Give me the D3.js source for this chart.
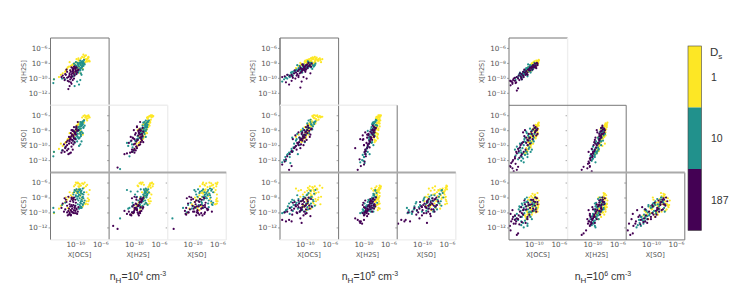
<!DOCTYPE html>
<html>
<head>
<meta charset="utf-8">
<script src="https://d3js.org/d3.v7.min.js"></script>
<style>
  html, body { margin: 0; padding: 0; background: #fff; }
  svg { display: block; }
  .axis text { font-family: "DejaVu Sans", sans-serif; font-size: 7.2px; fill: #555; }
  .axis line { stroke: #666; stroke-width: 0.6; }
  .axis .domain { stroke: none; }
  .axis-label { font-family: "DejaVu Sans", sans-serif; font-size: 6.6px; fill: #555; text-anchor: middle; }
  .title { font-family: "Liberation Sans", Arial, sans-serif; font-size: 10.5px; fill: #333; text-anchor: middle; }
  .cbar-label { font-family: "Liberation Sans", Arial, sans-serif; font-size: 10.5px; fill: #333; }
</style>
</head>
<body>
<svg id="chart" width="744" height="297"></svg>
<script>
// every row is log10 abundance: [OCS, H2S, SO, CS]
const n4_ds1 = [
  [-8.7,-6.9,-6.1,-6.2],[-8.5,-7.1,-6.0,-6.0],[-8.9,-7.2,-6.3,-6.1],[-8.3,-7.0,-6.2,-6.5],[-8.1,-7.5,-6.7,-6.3],[-7.7,-7.8,-6.3,-7.0],
  [-9.1,-7.4,-6.9,-6.4],[-9.4,-7.7,-7.6,-6.6],[-8.0,-7.4,-6.1,-8.1],[-8.2,-7.6,-6.2,-8.5],[-8.4,-7.9,-6.3,-8.9],[-8.6,-8.1,-7.0,-8.7],
  [-9.8,-7.9,-7.9,-6.9],[-10.1,-8.1,-8.2,-7.1],[-10.4,-8.2,-8.6,-7.4],[-9.6,-8.2,-8.0,-7.0],[-10.7,-8.4,-8.9,-7.7],[-11.0,-8.5,-9.1,-8.0],
  [-11.3,-8.8,-9.4,-8.3],[-11.6,-9.2,-9.7,-8.6],[-12.0,-9.4,-10.1,-8.9],[-12.3,-9.6,-9.8,-9.1],[-13.4,-10.2,-10.9,-10.1],[-12.6,-9.9,-10.5,-9.5],
  [-9.3,-8.7,-7.9,-7.3],[-9.0,-8.3,-8.3,-7.5],[-10.3,-8.6,-8.7,-8.2],[-9.5,-7.6,-7.2,-6.5],[-8.8,-8.8,-8.6,-9.2],[-10.9,-7.9,-8.4,-7.3],
  [-7.9,-7.2,-6.1,-7.6],[-9.2,-8.0,-7.5,-7.8],
  [-9.9,-8.9,-8.3,-6.0],[-9.7,-9.1,-7.8,-6.1],[-10.0,-8.4,-8.1,-6.3],[-9.6,-8.6,-7.3,-6.0],[-9.3,-8.8,-8.4,-6.2],[-10.2,-9.3,-8.8,-6.5],
  [-9.5,-7.4,-7.0,-6.1],[-9.2,-9.4,-8.0,-6.4],[-7.9,-7.3,-6.0,-8.5],[-8.3,-7.5,-6.1,-8.8],[-7.8,-7.7,-6.2,-8.3],[-8.0,-7.8,-6.4,-8.9],
  [-8.9,-8.4,-7.2,-8.2],[-11.2,-8.6,-9.2,-9.4],[-10.8,-9.0,-8.9,-9.7],[-10.5,-8.3,-8.5,-7.9],[-11.5,-9.0,-9.6,-8.0],[-9.8,-7.5,-7.4,-7.4],
  [-8.6,-7.3,-6.6,-6.7],[-8.2,-7.8,-6.5,-7.3]
];
const n4_ds10 = [
  [-9.2,-7.7,-6.9,-6.9],[-9.0,-7.9,-7.0,-7.1],[-8.8,-8.1,-7.2,-6.8],[-9.3,-8.0,-7.5,-7.0],[-9.5,-8.2,-7.6,-7.2],[-9.1,-8.3,-7.8,-7.4],
  [-8.9,-7.8,-7.3,-7.5],[-9.4,-8.5,-8.0,-7.6],[-8.7,-8.4,-7.7,-8.1],[-9.0,-8.6,-8.2,-8.3],[-9.2,-8.8,-8.5,-8.7],[-8.5,-8.2,-7.4,-8.4],
  [-9.6,-8.0,-7.9,-7.9],[-9.8,-8.4,-8.3,-6.9],[-10.0,-8.3,-8.5,-7.1],[-9.3,-9.0,-9.0,-9.0],[-9.0,-9.6,-9.5,-9.4],[-9.2,-10.3,-9.9,-9.2],
  [-9.5,-9.3,-9.1,-8.4],[-8.8,-8.9,-8.4,-7.9],[-8.6,-7.6,-6.7,-7.3],[-9.7,-8.7,-8.8,-8.2],[-10.2,-8.1,-8.1,-7.3],[-9.9,-7.9,-7.6,-7.7],
  [-13.5,-10.7,-11.5,-9.4],[-13.4,-10.2,-10.9,-10.0],[-12.1,-10.1,-10.7,-9.0],[-11.6,-10.2,-10.3,-8.7],[-15.0,-12.2,-13.2,-10.8],[-9.4,-10.9,-10.1,-9.5],
  [-8.9,-8.0,-7.1,-8.0],[-9.1,-8.7,-8.6,-8.5],
  [-9.4,-8.9,-9.1,-6.9],[-9.1,-9.4,-8.8,-7.2],[-9.7,-10.5,-9.5,-7.2],[-10.1,-11.1,-9.7,-7.0],[-8.9,-8.5,-7.0,-8.5],[-8.6,-8.1,-6.7,-8.7],
  [-8.8,-8.3,-6.9,-8.9],[-9.0,-8.6,-7.4,-9.3],[-8.7,-7.9,-7.6,-7.6],[-9.3,-8.9,-7.8,-8.1],[-9.6,-9.1,-8.5,-8.9],[-9.9,-9.5,-9.2,-7.9],
  [-9.5,-8.4,-8.1,-7.8],[-9.2,-8.2,-7.2,-7.7],[-10.3,-9.8,-9.4,-7.6],[-8.8,-7.8,-6.8,-9.0],[-9.1,-8.0,-7.5,-8.8],[-9.6,-8.1,-8.9,-7.4],
  [-9.2,-9.0,-8.3,-9.4],[-10.0,-8.6,-9.0,-9.1]
];
const n4_ds187 = [
  [-10.2,-8.5,-8.2,-8.0],[-10.0,-8.7,-8.5,-8.3],[-10.4,-8.9,-8.1,-8.1],[-10.6,-8.6,-8.8,-8.2],[-10.8,-9.0,-9.0,-8.5],[-9.9,-9.1,-7.9,-8.7],
  [-10.3,-9.3,-8.7,-9.0],[-10.5,-9.4,-9.3,-9.2],[-10.9,-9.6,-9.5,-8.9],[-10.1,-9.7,-8.4,-9.4],[-9.8,-9.5,-7.5,-9.6],[-10.7,-9.9,-9.2,-9.7],
  [-11.0,-9.8,-9.8,-9.5],[-11.3,-9.2,-10.0,-9.1],[-11.6,-9.5,-10.4,-9.6],[-12.0,-9.7,-10.7,-8.8],[-11.8,-10.0,-9.9,-9.9],[-10.4,-10.3,-10.6,-10.0],
  [-10.7,-10.6,-11.0,-10.3],[-10.9,-11.1,-11.1,-10.2],[-11.1,-11.5,-11.2,-9.8],[-10.2,-10.1,-9.1,-10.1],[-9.6,-9.0,-6.9,-9.9],[-9.5,-8.9,-8.0,-9.3],
  [-11.4,-8.9,-9.6,-8.6],[-11.2,-10.4,-9.4,-10.4],[-10.6,-10.8,-9.7,-9.9],[-12.2,-9.9,-11.0,-9.4],[-15.0,-13.3,-15.0,-11.8],[-15.0,-12.6,-13.0,-12.2],
  [-10.0,-9.2,-8.3,-9.1],[-10.3,-8.8,-8.9,-8.6],
  [-10.3,-9.0,-9.9,-8.2],[-10.6,-9.6,-10.2,-8.0],[-11.1,-9.9,-10.5,-7.9],[-10.0,-8.8,-9.2,-9.8],[-9.9,-9.0,-8.6,-10.1],[-9.7,-9.3,-8.1,-10.2],
  [-10.4,-9.1,-8.0,-10.0],[-10.2,-9.5,-7.6,-9.7],[-10.5,-9.8,-8.6,-9.5],[-10.8,-10.2,-9.0,-9.2],[-11.0,-10.5,-8.9,-10.3],[-10.1,-8.5,-9.6,-9.3],
  [-11.5,-9.6,-10.2,-8.3],[-11.7,-10.3,-10.9,-8.1],[-10.7,-9.2,-8.4,-10.4],[-10.9,-9.4,-9.3,-10.0],[-9.8,-8.6,-7.7,-9.5],[-11.3,-10.0,-10.7,-10.0],
  [-10.4,-8.7,-9.4,-8.4],[-10.6,-10.0,-8.0,-9.0]
];
const n5_ds1 = [
  [-8.8,-7.3,-6.1,-6.6],[-8.4,-7.2,-6.0,-6.5],[-8.0,-7.6,-6.0,-6.9],[-7.6,-7.4,-6.1,-6.4],[-7.2,-7.5,-6.2,-6.7],[-8.6,-7.5,-6.3,-7.0],
  [-9.0,-7.7,-6.6,-7.2],[-8.2,-7.4,-6.5,-7.4],[-8.9,-7.8,-7.0,-7.7],[-9.2,-7.9,-7.3,-8.0],[-9.4,-8.0,-7.6,-8.3],[-8.7,-8.1,-7.4,-8.6],
  [-9.6,-7.6,-8.0,-8.8],[-9.9,-7.9,-8.4,-9.0],[-10.1,-8.1,-8.7,-9.3],[-9.5,-8.2,-8.2,-7.6],[-9.8,-7.8,-8.9,-8.2],[-10.3,-8.2,-9.3,-9.1],
  [-10.5,-8.2,-9.6,-8.5],[-11.4,-8.7,-8.9,-6.8],[-11.0,-8.4,-8.6,-7.1],[-10.6,-8.3,-8.0,-7.0],[-8.5,-8.0,-6.4,-7.2],[-7.8,-7.7,-6.3,-8.0],
  [-7.4,-7.9,-6.2,-7.9],[-9.3,-7.5,-7.1,-6.9],[-10.0,-7.8,-7.6,-7.3],[-9.7,-8.0,-7.7,-8.5],[-8.3,-7.6,-6.9,-8.2],[-9.1,-8.3,-7.9,-7.5],
  [-8.1,-7.3,-6.7,-6.8],[-9.0,-7.4,-7.5,-7.8],
  [-8.6,-7.4,-6.0,-8.8],[-8.2,-7.5,-6.1,-8.5],[-7.9,-7.7,-6.2,-8.3],[-7.5,-7.6,-6.3,-8.9],[-9.3,-7.6,-7.8,-9.4],[-9.7,-7.7,-8.5,-9.7],
  [-9.0,-7.4,-7.1,-9.5],[-9.5,-8.1,-8.3,-6.7],[-9.2,-7.9,-7.9,-6.5],[-9.0,-7.8,-7.4,-7.0],[-10.3,-8.3,-9.0,-7.6],[-10.7,-8.0,-9.4,-7.9],
  [-8.4,-7.8,-6.4,-7.6],[-8.8,-7.5,-6.8,-8.0],[-9.9,-7.7,-9.1,-8.0],[-8.7,-7.3,-6.2,-6.7],[-9.6,-7.9,-7.3,-7.1],[-7.8,-7.5,-6.6,-7.3],
  [-9.4,-7.7,-8.6,-8.9],[-8.3,-7.9,-7.1,-9.0]
];
const n5_ds10 = [
  [-9.4,-7.9,-6.7,-7.4],[-9.1,-8.1,-6.9,-7.1],[-9.6,-8.3,-7.1,-7.6],[-8.9,-8.0,-7.3,-7.9],[-8.7,-8.3,-7.5,-8.3],[-10.3,-8.5,-7.8,-8.2],
  [-10.6,-8.7,-8.2,-8.5],[-9.8,-8.6,-8.6,-8.8],[-10.1,-8.9,-8.9,-9.2],[-9.3,-8.5,-8.4,-8.1],[-8.5,-8.4,-7.2,-7.5],[-10.9,-8.8,-9.0,-8.6],
  [-11.4,-9.0,-9.4,-8.9],[-11.7,-9.1,-9.8,-8.4],[-12.1,-9.5,-10.5,-9.3],[-11.9,-9.7,-10.8,-9.8],[-12.5,-9.8,-11.0,-8.8],[-12.8,-10.1,-11.3,-9.6],
  [-13.1,-9.9,-11.6,-9.9],[-13.3,-10.2,-12.0,-10.0],[-13.6,-10.5,-12.3,-10.1],[-12.3,-9.8,-12.4,-9.4],[-11.1,-9.0,-11.2,-9.5],[-10.4,-9.3,-8.1,-9.7],
  [-10.0,-8.6,-9.6,-8.0],[-9.2,-8.2,-7.7,-9.0],[-8.8,-8.8,-7.9,-9.3],[-8.3,-8.1,-6.8,-7.0],[-11.2,-8.3,-8.5,-7.7],[-12.0,-9.2,-9.0,-8.3],
  [-9.5,-7.8,-7.4,-8.7],[-10.8,-8.4,-10.0,-9.9],
  [-10.5,-8.9,-9.1,-9.5],[-11.0,-8.7,-9.7,-8.2],[-11.5,-9.2,-10.2,-9.1],[-12.2,-9.3,-10.9,-8.6],[-9.7,-8.4,-8.0,-7.7],[-9.0,-8.6,-7.2,-8.8],
  [-8.6,-8.5,-7.0,-8.5],[-8.4,-8.3,-6.9,-9.1],[-9.5,-8.7,-7.6,-9.6],[-9.9,-8.8,-8.2,-9.9],[-10.2,-8.2,-8.8,-7.9],[-10.7,-9.1,-9.3,-9.8],
  [-11.8,-9.4,-10.3,-9.0],[-12.7,-9.6,-11.2,-9.2],[-13.0,-10.0,-12.1,-9.7],[-10.4,-9.0,-8.6,-8.4],[-9.1,-8.0,-6.6,-8.0],[-11.3,-8.9,-9.2,-8.7],
  [-12.4,-9.9,-11.6,-10.2],[-9.6,-8.3,-7.9,-9.3]
];
const n5_ds187 = [
  [-9.4,-8.0,-7.7,-8.0],[-9.6,-8.2,-8.0,-8.3],[-9.9,-8.4,-8.3,-8.1],[-10.1,-8.5,-8.6,-8.6],[-10.3,-8.3,-8.8,-8.9],[-10.0,-8.7,-9.0,-9.1],
  [-10.6,-8.8,-9.2,-8.5],[-10.4,-9.0,-9.4,-9.3],[-10.9,-8.9,-9.6,-8.8],[-11.1,-9.1,-9.8,-9.0],[-9.2,-8.3,-8.9,-9.5],[-8.9,-8.1,-7.8,-9.2],
  [-11.4,-9.3,-10.1,-9.2],[-11.7,-9.4,-10.4,-9.5],[-12.1,-9.6,-10.8,-9.7],[-12.4,-9.7,-11.2,-9.4],[-12.8,-9.6,-11.5,-9.9],[-13.2,-9.8,-12.2,-10.0],
  [-13.6,-9.9,-12.6,-11.0],[-13.0,-10.6,-11.9,-11.2],[-12.5,-10.9,-13.3,-11.0],[-12.1,-10.4,-12.8,-11.2],[-10.7,-11.3,-10.4,-10.8],[-10.5,-10.5,-9.2,-11.4],
  [-10.2,-9.9,-10.0,-10.4],[-9.7,-10.1,-9.3,-10.1],[-11.0,-9.7,-8.3,-8.4],[-11.5,-10.1,-8.7,-9.0],[-11.9,-10.0,-9.2,-8.7],[-9.0,-8.5,-7.9,-8.2],
  [-9.8,-8.9,-8.2,-9.6],[-15.0,-10.2,-13.8,-11.5],
  [-9.6,-8.7,-8.4,-8.8],[-9.3,-8.4,-8.1,-9.1],[-10.2,-8.9,-8.9,-8.2],[-10.5,-9.2,-8.5,-9.6],[-10.8,-9.4,-9.0,-9.9],[-10.1,-8.6,-8.0,-9.9],
  [-9.9,-9.2,-8.7,-10.2],[-11.2,-9.5,-9.7,-10.1],[-10.6,-9.3,-9.9,-9.7],[-11.6,-9.0,-10.3,-8.6],[-11.3,-9.7,-10.6,-10.0],[-10.3,-8.8,-9.1,-8.4],
  [-9.5,-8.5,-7.4,-8.5],[-10.0,-9.0,-9.5,-9.2],[-10.7,-8.6,-9.3,-9.4],[-12.0,-9.8,-10.9,-10.3],[-9.1,-9.4,-8.6,-10.5],[-10.4,-8.2,-8.3,-8.9],
  [-11.0,-9.9,-10.0,-9.3],[-9.8,-8.3,-7.6,-9.0]
];
const n6_ds1 = [
  [-9.2,-7.6,-7.0,-8.4],[-9.4,-7.8,-7.3,-8.1],[-9.6,-7.7,-7.6,-8.8],[-9.3,-8.0,-7.9,-9.0],[-9.8,-8.1,-7.8,-7.6],[-10.2,-8.0,-8.0,-7.5],
  [-10.4,-8.2,-8.3,-7.8],[-10.0,-8.3,-8.6,-8.2],[-9.7,-8.4,-8.9,-9.3],[-10.6,-8.5,-8.5,-8.4],[-10.1,-8.6,-9.2,-8.7],[-10.3,-8.8,-9.5,-9.1],
  [-10.6,-8.9,-9.8,-9.5],[-10.9,-8.9,-10.1,-9.2],[-10.5,-9.1,-10.3,-9.9],[-11.0,-9.2,-10.6,-10.3],[-11.3,-9.4,-10.9,-10.6],[-11.1,-9.3,-11.0,-9.8],
  [-9.9,-8.5,-8.2,-8.9],[-9.5,-7.9,-7.5,-9.6],[-10.8,-8.7,-9.3,-10.2],[-9.4,-8.2,-8.4,-7.4],[-10.2,-8.4,-9.0,-10.0],[-11.2,-9.0,-10.4,-10.9],
  [-9.6,-8.0,-8.1,-8.3],[-10.7,-9.0,-9.7,-8.0],[-9.3,-7.7,-7.2,-9.3],[-10.5,-8.3,-8.8,-8.6],[-11.4,-9.5,-11.2,-10.4],[-9.8,-8.6,-7.7,-9.8],
  [-10.0,-7.9,-8.7,-9.0],[-10.9,-8.6,-9.6,-8.3],
  [-9.8,-8.2,-8.0,-7.9],[-10.0,-8.5,-7.7,-8.5],[-9.5,-8.1,-7.5,-8.0],[-9.3,-7.9,-7.1,-9.0],[-9.4,-8.0,-8.6,-9.5],[-9.7,-8.3,-9.1,-10.0],
  [-10.3,-8.1,-8.9,-10.3],[-10.6,-8.6,-9.4,-10.6],[-10.8,-9.2,-10.0,-10.1],[-9.9,-7.8,-7.9,-7.7],[-10.1,-8.0,-9.8,-9.3],[-9.6,-8.4,-8.8,-8.7],
  [-9.2,-7.7,-7.4,-8.9],[-10.4,-8.8,-9.9,-9.6],[-11.0,-9.0,-10.8,-10.0],[-10.9,-9.1,-9.0,-9.0],[-9.4,-7.9,-8.3,-9.9],[-10.2,-8.7,-7.9,-8.0],
  [-9.7,-8.0,-7.3,-9.1],[-10.5,-8.4,-10.1,-9.4]
];
const n6_ds10 = [
  [-10.2,-8.3,-8.0,-8.7],[-10.5,-8.4,-8.5,-8.3],[-10.8,-8.6,-8.9,-8.9],[-11.0,-8.8,-9.3,-8.5],[-11.3,-8.9,-9.6,-9.2],[-11.6,-9.2,-10.0,-9.4],
  [-11.8,-9.4,-10.4,-9.0],[-12.1,-9.6,-10.7,-9.8],[-12.4,-9.7,-11.0,-9.6],[-10.0,-8.5,-9.0,-9.7],[-10.4,-8.9,-9.7,-10.0],[-10.7,-9.1,-10.3,-10.4],
  [-11.1,-9.4,-10.9,-10.8],[-11.4,-9.6,-11.3,-11.1],[-11.7,-9.9,-11.8,-11.4],[-12.0,-10.1,-12.1,-11.7],[-11.9,-10.2,-11.6,-10.6],[-9.8,-8.4,-8.3,-8.0],
  [-9.6,-8.2,-7.9,-9.4],[-10.1,-8.8,-9.3,-9.0],[-12.7,-9.9,-10.2,-10.2],[-13.0,-10.0,-10.6,-10.5],[-12.9,-10.3,-11.4,-10.9],[-11.5,-9.0,-9.2,-10.1],
  [-11.2,-8.7,-8.2,-8.6],[-10.9,-8.2,-8.7,-9.6],[-10.3,-9.0,-10.6,-10.9],[-11.0,-9.8,-11.2,-11.5],[-9.9,-8.0,-8.5,-8.8],[-12.2,-9.3,-9.8,-9.3],
  [-10.6,-8.6,-7.8,-9.9],[-11.6,-9.5,-12.3,-12.0],
  [-11.4,-9.1,-9.0,-8.2],[-11.1,-8.8,-8.4,-8.0],[-10.6,-8.3,-9.4,-8.9],[-10.9,-8.6,-10.0,-9.1],[-11.3,-9.2,-10.8,-9.7],[-11.7,-9.3,-11.1,-10.3],
  [-12.1,-9.7,-11.5,-10.6],[-12.5,-10.0,-11.9,-11.0],[-10.8,-9.0,-10.5,-10.0],[-10.2,-8.7,-8.7,-9.2],[-9.7,-8.2,-8.1,-8.6],[-10.0,-8.6,-9.5,-9.8],
  [-11.5,-9.4,-9.5,-8.7],[-12.3,-9.5,-10.4,-9.2],[-11.9,-9.6,-9.7,-8.8],[-11.0,-9.6,-11.6,-11.8],[-10.5,-9.3,-10.9,-10.6],[-9.9,-8.3,-7.7,-9.0],
  [-12.0,-9.8,-11.0,-11.2],[-10.3,-8.5,-8.1,-8.4]
];
const n6_ds187 = [
  [-9.5,-8.0,-8.0,-8.1],[-9.8,-8.1,-8.3,-8.6],[-10.1,-8.3,-7.9,-8.3],[-10.3,-8.5,-8.5,-8.9],[-10.6,-8.6,-9.0,-9.4],[-10.9,-8.9,-9.4,-8.7],
  [-11.2,-9.1,-9.7,-9.2],[-11.4,-9.3,-8.0,-8.9],[-11.7,-9.2,-8.3,-9.7],[-11.9,-9.5,-9.8,-10.1],[-12.2,-9.4,-10.3,-9.9],[-12.4,-9.7,-10.8,-10.4],
  [-12.7,-9.9,-11.1,-10.8],[-13.0,-10.0,-11.6,-11.0],[-13.3,-10.3,-12.0,-10.6],[-13.6,-10.5,-12.4,-11.2],[-13.8,-10.4,-12.8,-11.8],[-13.4,-10.8,-13.1,-10.9],
  [-12.7,-11.7,-13.3,-13.0],[-12.5,-11.4,-12.9,-12.8],[-10.7,-8.8,-9.1,-10.3],[-11.0,-9.3,-10.0,-10.9],[-11.3,-9.6,-10.6,-11.4],[-10.2,-8.9,-9.2,-9.8],
  [-9.8,-8.6,-7.7,-9.1],[-10.0,-8.4,-7.4,-8.5],[-12.0,-10.0,-11.4,-9.3],[-11.6,-9.9,-10.9,-9.6],[-12.9,-10.7,-12.5,-11.5],[-11.5,-8.9,-8.8,-8.4],
  [-9.6,-8.7,-8.7,-9.9],[-13.7,-11.0,-13.7,-12.4],
  [-9.4,-8.3,-8.5,-8.6],[-9.7,-8.4,-7.6,-8.0],[-10.4,-8.7,-8.2,-8.3],[-10.8,-8.9,-8.5,-9.0],[-11.2,-9.5,-9.0,-9.6],[-11.7,-9.7,-9.6,-10.3],
  [-12.1,-9.8,-10.0,-10.6],[-12.5,-10.1,-10.5,-10.9],[-13.0,-10.4,-11.8,-10.4],[-13.4,-10.6,-12.2,-9.7],[-13.7,-10.4,-12.9,-10.2],[-11.9,-10.2,-11.2,-11.3],
  [-12.3,-10.3,-11.7,-11.6],[-11.0,-9.6,-9.3,-10.6],[-10.6,-9.0,-9.8,-9.0],[-10.1,-8.6,-8.8,-9.5],[-9.7,-8.5,-8.1,-9.6],[-9.4,-8.1,-7.8,-8.9],
  [-12.8,-10.6,-10.9,-11.2],[-13.2,-10.1,-13.5,-11.5]
];

const species = ["OCS", "H2S", "SO", "CS"];
const classes = ["1", "10", "187"];
const classColors = ["#fde725", "#21918c", "#440154"];
const yTicks = [-6, -8, -10, -12];
const xTicks = [-10, -6];
const groups = [
  { left: 50.5, exp: "4", data: [n4_ds1, n4_ds10, n4_ds187], titleX: 138,
    lines: [[0,0,0,1,"d"],[0,0,1,0,"d"],[1,0,1,3,"d"],[0,0,0,3,"d"],[0,1,1,1,"l"],[1,1,2,1,"l"],[2,1,2,3,"l"],[3,2,3,3,"l"],[0,3,3,3,"l"]] },
  { left: 280, exp: "5", data: [n5_ds1, n5_ds10, n5_ds187], titleX: 370,
    lines: [[0,0,0,1,"d"],[0,0,1,0,"d"],[1,0,1,3,"d"],[0,0,0,3,"d"],[0,1,1,1,"l"],[1,1,2,1,"l"],[2,1,2,3,"d"],[3,2,3,3,"l"],[0,3,3,3,"l"]] },
  { left: 509, exp: "6", data: [n6_ds1, n6_ds10, n6_ds187], titleX: 603,
    lines: [[0,0,1,0,"d"],[0,0,0,3,"d"],[1,0,1,3,"l"],[0,1,2,1,"d"],[2,1,2,3,"d"],[3,2,3,3,"d"],[0,3,3,3,"d"]] }
];

const svg = d3.select("#chart");
const panelW = 58.6;
const panelH = 67.3;
const chartTop = 38;
const xDomain = [-13.95, -4.6];
const yDomain = [-4.67, -13.67];

const supers = { "-": "\u207b", "0": "\u2070", "1": "\u00b9", "2": "\u00b2", "4": "\u2074", "6": "\u2076", "8": "\u2078" };
const logFormat = d => "10" + String(d).split("").map(c => supers[c]).join("");

const xScale = d3.scaleLinear().domain(xDomain).range([0, panelW]);
const yScale = d3.scaleLinear().domain(yDomain).range([0, panelH]);

// the lower triangle: rows H2S, SO, CS against columns OCS, H2S, SO
const panels = [[0, 1], [0, 2], [1, 2], [0, 3], [1, 3], [2, 3]];

groups.forEach(group => {
  const g = svg.append("g").attr("transform", `translate(${group.left},${chartTop})`);

  panels.forEach(([xi, yi]) => {
    const col = xi;
    const row = yi - 1;
    const p = g.append("g").attr("transform", `translate(${col * panelW},${row * panelH})`);

    p.append("g").attr("class", "axis")
      .call(d3.axisLeft(yScale).tickValues(yTicks).tickSize(2).tickPadding(1)
        .tickFormat(col === 0 ? logFormat : ""));

    if (row === 2) {
      p.append("g").attr("class", "axis")
        .attr("transform", `translate(0,${panelH})`)
        .call(d3.axisBottom(xScale).tickValues(xTicks).tickSize(0).tickPadding(2).tickFormat(logFormat));
      p.append("text").attr("class", "axis-label")
        .attr("x", 29).attr("y", panelH + 17.5)
        .text(`X[${species[xi]}]`);
    }
    if (col === 0) {
      p.append("text").attr("class", "axis-label")
        .attr("transform", `translate(-25,${panelH / 2}) rotate(-90)`)
        .text(`X[${species[yi]}]`);
    }

    group.data.forEach((rows, c) => {
      const visible = rows.filter(d => d[xi] >= xDomain[0] && d[yi] >= yDomain[1]);
      p.selectAll(null)
        .data(visible)
        .enter()
        .append("circle")
        .attr("cx", d => xScale(d[xi]))
        .attr("cy", d => yScale(d[yi]))
        .attr("r", 1.1)
        .attr("fill", classColors[c]);
    });
  });

  // spines: some are dark, some nearly gone, as in the original
  group.lines.forEach(([x1, y1, x2, y2, kind]) => {
    g.append("line")
      .attr("x1", x1 * panelW).attr("y1", y1 * panelH)
      .attr("x2", x2 * panelW).attr("y2", y2 * panelH)
      .attr("stroke", kind === "d" ? "#777" : "#eee")
      .attr("stroke-width", kind === "d" ? 1 : 1.4);
  });
  g.append("line")
    .attr("x1", 0).attr("x2", 3 * panelW)
    .attr("y1", 2 * panelH).attr("y2", 2 * panelH)
    .attr("stroke", "#aaa").attr("stroke-width", 2);

  const t = svg.append("text").attr("class", "title")
    .attr("x", group.titleX).attr("y", 280);
  t.append("tspan").text("n");
  t.append("tspan").attr("dy", 3).attr("font-size", "8px").text("H");
  t.append("tspan").attr("dy", -3).text("=10");
  t.append("tspan").attr("dy", -4).attr("font-size", "7px").text(group.exp);
  t.append("tspan").attr("dy", 4).text(" cm");
  t.append("tspan").attr("dy", -4).attr("font-size", "7px").text("-3");
});

// colour bar
const cbarY = d3.scaleBand().domain(classes).range([46, 230.5]);
svg.selectAll(".cbar")
  .data(classes)
  .enter()
  .append("rect")
  .attr("class", "cbar")
  .attr("x", 688).attr("width", 13.5)
  .attr("y", d => cbarY(d)).attr("height", cbarY.bandwidth())
  .attr("fill", (d, i) => classColors[i]);
svg.append("rect")
  .attr("x", 688).attr("y", 46).attr("width", 13.5).attr("height", 184.5)
  .attr("fill", "none").attr("stroke", "#444").attr("stroke-width", 0.6);
svg.selectAll(".cbar-label")
  .data(classes)
  .enter()
  .append("text")
  .attr("class", "cbar-label")
  .attr("x", 711)
  .attr("y", d => cbarY(d) + cbarY.bandwidth() / 2 + 4)
  .text(d => d);
const ds = svg.append("text").attr("class", "cbar-label").attr("x", 710).attr("y", 56);
ds.append("tspan").attr("font-size", "11.5px").text("D");
ds.append("tspan").attr("dy", 3).attr("font-size", "8px").text("s");
</script>
</body>
</html>
